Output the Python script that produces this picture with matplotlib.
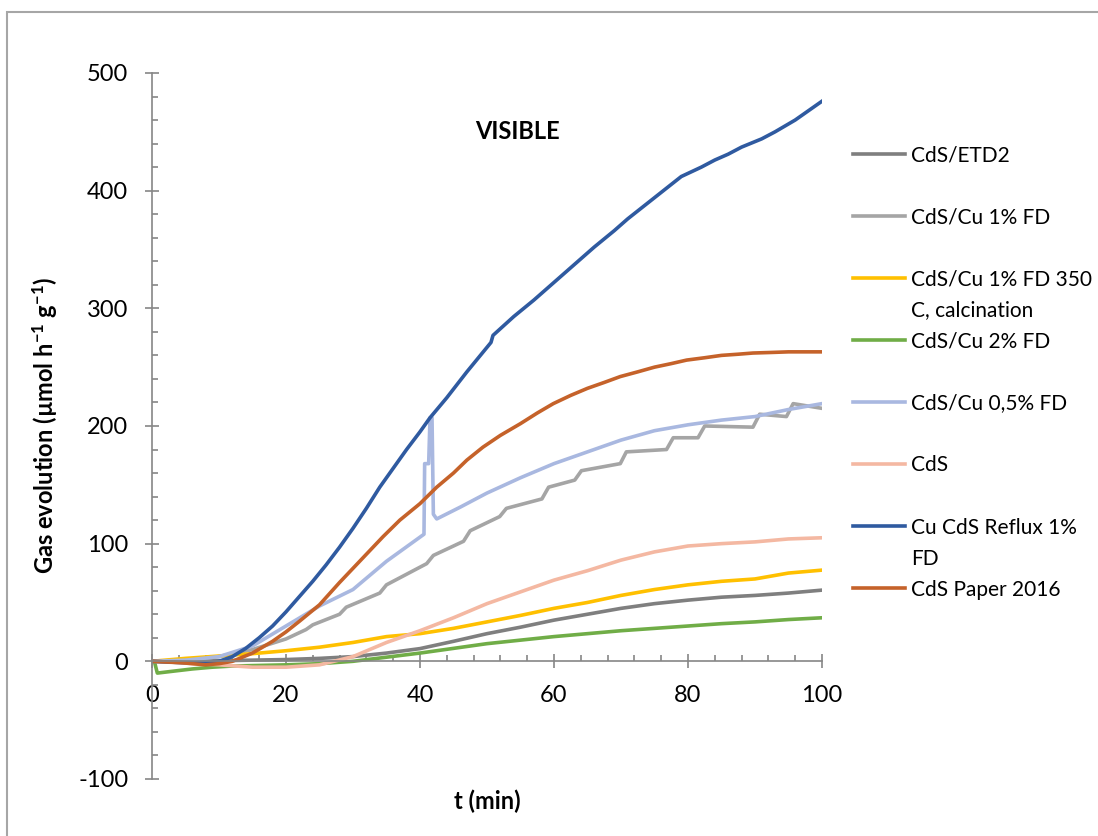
import matplotlib
matplotlib.use('Agg')
import matplotlib.pyplot as plt
from matplotlib.lines import Line2D
from matplotlib.patches import Rectangle
from matplotlib.ticker import MultipleLocator

plt.rcParams['font.family'] = ['Lato', 'DejaVu Sans']
plt.rcParams['mathtext.fontset'] = 'custom'
plt.rcParams['mathtext.rm'] = 'Lato'
plt.rcParams['mathtext.bf'] = 'Lato:bold'
plt.rcParams['mathtext.default'] = 'bf'
plt.rcParams['axes.unicode_minus'] = False

# series: time (min) and gas evolution
t_etd2 = [0, 5, 10, 15, 20, 25, 30, 35, 40, 45, 50, 55, 60, 65, 70, 75, 80, 85, 90, 95, 100]
v_etd2 = [0, 0, 0.5, 1, 1.5, 2.5, 4, 7, 10.8, 17, 23.5, 29, 35, 40, 45, 49, 52, 54.5, 56, 58, 60.5]

t_cu1 = [0, 5, 10, 15, 20, 23, 24, 28, 29, 34, 35, 41, 42, 46.5, 47.5, 51.9, 52.9, 58.2, 59.2,
         63.1, 64.1, 69.9, 70.8, 76.8, 77.8, 81.5, 82.5, 89.7, 90.7, 94.7, 95.7, 100]
v_cu1 = [0, 1, 4, 10, 19, 27, 31, 40, 46, 58, 65, 83, 90, 102, 111, 123, 130, 138, 148,
         154, 162, 168, 178, 180, 190, 190, 200, 199, 210, 208, 219, 215]

t_cu1_350 = [0, 5, 10, 15, 20, 25, 30, 35, 40, 45, 50, 55, 60, 65, 70, 75, 80, 85, 90, 95, 100]
v_cu1_350 = [0, 2.5, 4.5, 6.5, 9, 12, 16, 21, 23.5, 28, 33.5, 39, 45, 50, 56, 61, 65, 68, 70, 75, 77.5]

t_cu2 = [0, 0.4, 0.8, 3, 6, 9, 12, 16, 20, 25, 30, 35, 40, 45, 50, 55, 60, 65, 70, 75, 80, 85, 90, 95, 100]
v_cu2 = [0, -1, -10, -8.5, -6.5, -5, -4, -3.5, -3, -2, 0, 3.5, 7, 11, 15, 18, 21, 23.5, 26, 28, 30, 32, 33.5, 35.5, 37]

t_cu05 = [0, 5, 10, 15, 20, 25, 30, 35, 40.6, 40.7, 41.3, 41.5, 41.8, 42.0, 42.5, 46, 50, 55, 60,
          65, 70, 75, 80, 85, 90, 95, 100]
v_cu05 = [0, 1, 4, 13, 30, 47, 61, 85, 108, 168, 168, 207, 207, 125, 121, 131, 143, 156, 168,
          178, 188, 196, 201, 205, 208, 214, 219]

t_cds = [0, 5, 10, 15, 20, 25, 30, 35, 40, 45, 50, 55, 60, 65, 70, 75, 80, 85, 90, 95, 100]
v_cds = [0, -1.5, -3, -5, -5, -3, 4, 16, 26, 37, 49, 59, 69, 77, 86, 93, 98, 100, 101.5, 104, 105]

t_reflux = [0, 4, 8, 10, 12, 14, 16, 18, 20, 22, 24, 26, 28, 30, 32, 34, 36, 38, 40, 41.5, 44, 47,
            50.6, 50.9, 54, 57, 59, 61, 63, 64, 66, 69, 71, 73, 75, 77, 79, 82, 84, 86, 88, 91,
            93, 96, 98, 100]
v_reflux = [0, -1, -1.5, 0, 4, 11, 20, 30, 42, 55, 68, 82, 97, 113, 130, 148, 164, 180, 195, 207, 224, 246,
            271, 277, 293, 307, 317, 327, 337, 342, 352, 366, 376, 385, 394, 403, 412, 420, 426, 431, 437, 444,
            450, 460, 468, 476]

t_paper = [0, 4, 8, 10, 12, 15, 18, 20, 22, 25, 28, 30, 32, 34.5, 37, 40, 42.5, 45, 47, 49.4, 52, 55,
           57.5, 59.9, 62.5, 65, 67.5, 69.9, 72.5, 75, 77.5, 79.8, 82.5, 85, 87.5, 89.7, 92.5, 95, 100]
v_paper = [0, -1, -3, -2, 0, 7, 17, 25, 34, 48, 67, 79, 91, 106, 120, 134, 148, 160, 171, 182, 192, 202,
           211, 219, 226, 232, 237, 242, 246, 250, 253, 256, 258, 260, 261, 262, 262.5, 263, 263]

series = [
    (t_etd2, v_etd2, 'CdS/ETD2', '#7F7F7F'),
    (t_cu1, v_cu1, 'CdS/Cu 1% FD', '#A5A5A5'),
    (t_cu1_350, v_cu1_350, 'CdS/Cu 1% FD 350', '#FFC000'),
    (t_cu2, v_cu2, 'CdS/Cu 2% FD', '#70AD47'),
    (t_cu05, v_cu05, 'CdS/Cu 0,5% FD', '#A9B8E0'),
    (t_cds, v_cds, 'CdS', '#F4B8A2'),
    (t_reflux, v_reflux, 'Cu CdS Reflux 1%', '#2F5AA0'),
    (t_paper, v_paper, 'CdS Paper 2016', '#C5622A'),
]
# second lines of the wrapped legend labels
wrapped = {'CdS/Cu 1% FD 350': 'C, calcination', 'Cu CdS Reflux 1%': 'FD'}

fig = plt.figure(figsize=(10.98, 8.36), dpi=100)
ax = fig.add_axes([0.1384, 0.0682, 0.6102, 0.8445])

handles = []
for t, v, name, col in series:
    ax.plot(t, v, color=col, lw=2.6, solid_joinstyle='round')
    handles.append(Line2D([], [], color=col, lw=2.6, label=name))

ax.set_xlim(0, 100)
ax.set_ylim(-100, 500)
ax.xaxis.set_major_locator(MultipleLocator(20))
ax.xaxis.set_minor_locator(MultipleLocator(4))
ax.yaxis.set_major_locator(MultipleLocator(100))
ax.yaxis.set_minor_locator(MultipleLocator(20))

for s in ['top', 'right']:
    ax.spines[s].set_visible(False)
ax.spines['bottom'].set_position(('data', 0))
for s in ['left', 'bottom']:
    ax.spines[s].set_color('#868686')
    ax.spines[s].set_linewidth(1.2)

ax.tick_params(which='major', direction='inout', length=10, width=1.2, color='#868686',
               labelsize=17, pad=12)
ax.tick_params(which='minor', direction='in', length=4, width=1.2, color='#868686')

ax.set_xlabel('t (min)', fontsize=17, fontweight='bold')
ax.xaxis.set_label_coords(0.5, -0.015)
ax.set_ylabel(r'Gas evolution (µmol h$^{-1}$ g$^{-1}$)', fontsize=17, fontweight='bold')
ax.yaxis.set_label_coords(-0.137, 0.5)

ax.text(54.5, 450, 'VISIBLE', fontsize=17, fontweight='bold', ha='center', va='center')

# legend with blank / continuation rows to mimic the even spacing
blank = Line2D([], [], color='none')
leg_h, leg_l = [], []
for i, h in enumerate(handles):
    name = h.get_label()
    leg_h.append(h)
    leg_l.append(name)
    if name in wrapped:
        leg_h.append(blank)
        leg_l.append(wrapped[name])
    elif i < len(handles) - 1:
        leg_h.append(blank)
        leg_l.append(' ')
fig.legend(leg_h, leg_l, loc='upper left', bbox_to_anchor=(853 / 1098, 1 - 145 / 836),
           frameon=False, fontsize=15, handlelength=2.5, handletextpad=0.3,
           labelspacing=0.53, borderaxespad=0, borderpad=0)

fig.patches.append(Rectangle((7 / 1098, -0.05), 1.1, 1 - 12 / 836 + 0.05, transform=fig.transFigure,
                             fill=False, ec='#A6A6A6', lw=1.5))

fig.savefig('out.png', dpi=100)
